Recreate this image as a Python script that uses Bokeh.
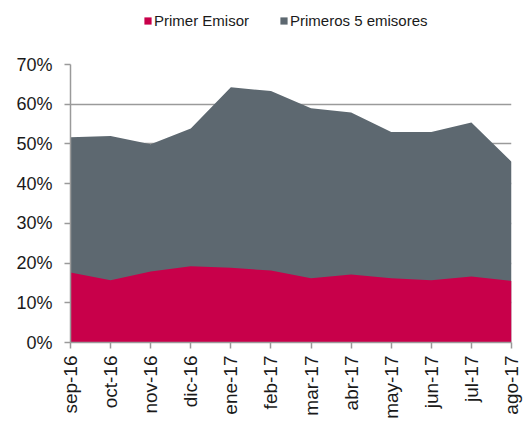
from math import pi
from bokeh.plotting import figure
from bokeh.layouts import column
from bokeh.models import ColumnDataSource, FixedTicker, NumeralTickFormatter, Legend, LegendItem, Range1d
from bokeh.embed import file_html
from bokeh.resources import INLINE

categories = ["sep-16", "oct-16", "nov-16", "dic-16", "ene-17", "feb-17",
              "mar-17", "abr-17", "may-17", "jun-17", "jul-17", "ago-17"]
primer_emisor = [17.6, 15.7, 17.9, 19.2, 18.8, 18.1, 16.2, 17.1, 16.2, 15.7, 16.6, 15.5]
primeros_5 = [51.7, 52.0, 49.9, 53.9, 64.3, 63.3, 59.0, 57.9, 53.0, 53.0, 55.4, 45.5]
series_names = ["Primer Emisor", "Primeros 5 emisores"]

RED = "#C8004A"
GRAY = "#5D6870"
FONT = "Liberation Sans"

xs = list(range(len(categories)))
src = ColumnDataSource(dict(
    x=xs,
    zero=[0.0] * len(xs),
    p1=[v / 100 for v in primer_emisor],
    p5=[v / 100 for v in primeros_5],
))

# ---- legend strip on top (areas are out of its view; only the legend shows) ----
lg = figure(width=523, height=40, output_backend="svg", toolbar_location=None,
            x_range=Range1d(100, 101), y_range=Range1d(100, 101),
            x_axis_location=None, y_axis_location=None,
            min_border_left=0, min_border_right=0, min_border_top=0, min_border_bottom=0)
lg.grid.grid_line_color = None
lg.outline_line_color = None
d1 = lg.varea(x="x", y1="zero", y2="p1", source=src, fill_color=RED)
d5 = lg.varea(x="x", y1="zero", y2="p5", source=src, fill_color=GRAY)
legend = Legend(items=[LegendItem(label=series_names[0], renderers=[d1]),
                       LegendItem(label=series_names[1], renderers=[d5])],
                orientation="horizontal", location=(73, 11),
                glyph_width=9, glyph_height=9, label_standoff=2, spacing=30,
                label_text_font=FONT, label_text_font_size="15px",
                label_text_color="#1a1a1a",
                border_line_color=None, background_fill_alpha=0,
                padding=4, margin=0)
lg.add_layout(legend, "center")

# ---- main chart ----
p = figure(width=523, height=381, output_backend="svg", toolbar_location=None,
           x_range=Range1d(0, len(xs) - 1), y_range=Range1d(0, 0.7),
           min_border_left=70, min_border_right=12, min_border_top=24, min_border_bottom=75)
p.outline_line_color = None
p.background_fill_color = "white"

p.varea(x="x", y1="zero", y2="p5", source=src, fill_color=GRAY)
p.varea(x="x", y1="zero", y2="p1", source=src, fill_color=RED)

p.xgrid.grid_line_color = None
p.ygrid.grid_line_color = "#9a9a9a"
p.ygrid.grid_line_width = 1.5
p.yaxis.ticker = FixedTicker(ticks=[i / 10 for i in range(8)])
p.yaxis.formatter = NumeralTickFormatter(format="0%")
p.ygrid.ticker = FixedTicker(ticks=[i / 10 for i in range(8)])

p.xaxis.ticker = FixedTicker(ticks=xs)
p.xaxis.major_label_overrides = {i: c for i, c in enumerate(categories)}
p.xaxis.major_label_orientation = pi / 2

for ax in (p.xaxis, p.yaxis):
    ax.axis_line_color = "#9a9a9a"
    ax.axis_line_width = 1.5
    ax.major_tick_line_color = "#9a9a9a"
    ax.major_tick_line_width = 1.5
    ax.major_tick_out = 6
    ax.major_tick_in = 0
    ax.minor_tick_line_color = None
    ax.major_label_text_font = FONT
    ax.major_label_text_color = "#1a1a1a"
p.yaxis.major_label_text_font_size = "18px"
p.xaxis.major_label_text_font_size = "19px"
p.yaxis.major_label_standoff = 12
p.xaxis.major_label_standoff = 7

open("out.html", "w").write(file_html(column(lg, p, spacing=0), INLINE))
